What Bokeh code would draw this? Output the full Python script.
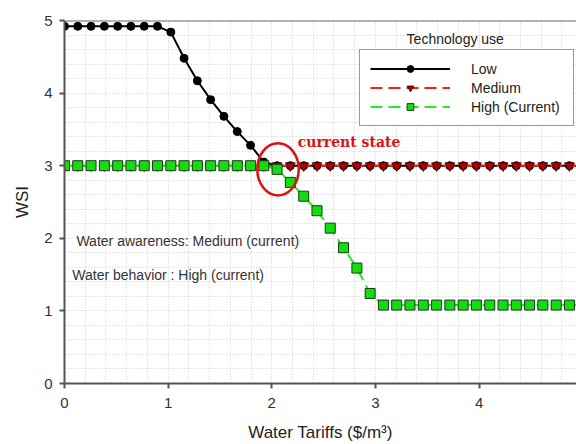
from bokeh.plotting import figure
from bokeh.models import (Legend, LegendItem, Label, Span, Ellipse, ColumnDataSource,
                          FixedTicker, SingleIntervalTicker, Range1d)
from bokeh.embed import file_html
from bokeh.resources import INLINE

# Water tariff grid ($/m3)
tariff = [0.0, 0.128, 0.256, 0.385, 0.513, 0.641, 0.769, 0.897, 1.026, 1.154,
          1.282, 1.41, 1.538, 1.667, 1.795, 1.923, 2.051, 2.179, 2.308, 2.436,
          2.564, 2.692, 2.821, 2.949, 3.077, 3.205, 3.333, 3.462, 3.59, 3.718,
          3.846, 3.974, 4.103, 4.231, 4.359, 4.487, 4.615, 4.744, 4.872, 5.0]

# WSI for each technology-use level
wsi_low = [4.92, 4.92, 4.92, 4.92, 4.92, 4.92, 4.92, 4.92, 4.84, 4.48,
           4.17, 3.91, 3.68, 3.47, 3.28, 3.05, 3.0, 3.0, 3.0, 3.0,
           3.0, 3.0, 3.0, 3.0, 3.0, 3.0, 3.0, 3.0, 3.0, 3.0,
           3.0, 3.0, 3.0, 3.0, 3.0, 3.0, 3.0, 3.0, 3.0, 3.0]
wsi_medium = [3.0, 3.0, 3.0, 3.0, 3.0, 3.0, 3.0, 3.0, 3.0, 3.0,
              3.0, 3.0, 3.0, 3.0, 3.0, 3.0, 3.0, 3.0, 3.0, 3.0,
              3.0, 3.0, 3.0, 3.0, 3.0, 3.0, 3.0, 3.0, 3.0, 3.0,
              3.0, 3.0, 3.0, 3.0, 3.0, 3.0, 3.0, 3.0, 3.0, 3.0]
wsi_high = [3.0, 3.0, 3.0, 3.0, 3.0, 3.0, 3.0, 3.0, 3.0, 3.0,
            3.0, 3.0, 3.0, 3.0, 3.0, 3.0, 2.95, 2.77, 2.58, 2.38,
            2.14, 1.87, 1.59, 1.24, 1.08, 1.08, 1.08, 1.08, 1.08, 1.08,
            1.08, 1.08, 1.08, 1.08, 1.08, 1.08, 1.08, 1.08, 1.08, 1.08]

series_names = ["Low", "Medium", "High (Current)"]
x_ticks = [0, 1, 2, 3, 4]
y_ticks = [0, 1, 2, 3, 4, 5]

# highlighted "current state" region (centre and size in data units)
state_x, state_y = 2.06, 2.95
state_w, state_h = 0.40, 0.72

FONT = "Liberation Sans"

p = figure(width=576, height=444, output_backend="svg", toolbar_location=None,
           x_range=Range1d(0, 4.94), y_range=Range1d(0, 5),
           min_border_left=64, min_border_top=20, min_border_bottom=60,
           min_border_right=0, x_axis_label="Water Tariffs ($/m\u00b3)",
           y_axis_label="WSI")
p.outline_line_color = None
p.background_fill_color = "white"

# axes
for ax in (p.xaxis[0], p.yaxis[0]):
    ax.axis_line_color = "#555555"
    ax.axis_line_width = 2
    ax.major_tick_line_color = "#555555"
    ax.major_tick_line_width = 2
    ax.major_tick_out = 5
    ax.major_tick_in = 0
    ax.minor_tick_line_color = None
    ax.major_label_text_font = FONT
    ax.major_label_text_font_size = "15px"
    ax.major_label_text_color = "#333333"
    ax.axis_label_text_font = FONT
    ax.axis_label_text_font_size = "17px"
    ax.axis_label_text_font_style = "normal"
    ax.axis_label_text_color = "#222222"
p.xaxis.ticker = FixedTicker(ticks=x_ticks)
p.yaxis.ticker = FixedTicker(ticks=y_ticks)
p.xaxis.major_label_standoff = 9
p.yaxis.major_label_standoff = 7
p.xaxis.axis_label_standoff = 12
p.yaxis.axis_label_standoff = 9

# dotted grid every 0.2
p.xgrid.ticker = SingleIntervalTicker(interval=0.2, num_minor_ticks=0)
p.ygrid.ticker = SingleIntervalTicker(interval=0.2, num_minor_ticks=0)
for g in (p.xgrid[0], p.ygrid[0]):
    g.grid_line_color = "#cdcdcd"
    g.grid_line_dash = "1 2"
    g.grid_line_width = 1

# top frame line
p.add_layout(Span(location=5, dimension="width", line_color="#666666", line_width=2))

src = ColumnDataSource(dict(x=tariff, low=wsi_low, med=wsi_medium, high=wsi_high))

l_low = p.line("x", "low", source=src, line_color="black", line_width=2)
m_low = p.scatter("x", "low", source=src, marker="circle", size=8,
                  fill_color="black", line_color="black")
l_med = p.line("x", "med", source=src, line_color="#ff1a1a", line_width=2,
               line_dash="12 6")
m_med = p.scatter("x", "med", source=src, marker="inverted_triangle", size=10,
                  fill_color="#b00000", line_color="#400000", line_width=0.8)
l_high = p.line("x", "high", source=src, line_color="#22ee22", line_width=2,
                line_dash="12 6")
m_high = p.scatter("x", "high", source=src, marker="square", size=10,
                   fill_color="#11dd11", line_color="#1a3a1a", line_width=1)

legend = Legend(items=[
    LegendItem(label=series_names[0], renderers=[l_low, m_low]),
    LegendItem(label=series_names[1], renderers=[l_med, m_med]),
    LegendItem(label=series_names[2], renderers=[l_high, m_high]),
], location=(295, 257))
legend.glyph_width = 80
legend.glyph_height = 17
legend.spacing = 2
legend.padding = 10
legend.margin = 0
legend.label_standoff = 21
legend.label_text_font = FONT
legend.label_text_font_size = "14px"
legend.label_text_color = "#222222"
legend.border_line_color = "#333333"
legend.border_line_width = 1.5
legend.background_fill_color = "white"
legend.background_fill_alpha = 1
legend.label_width = 92
p.add_layout(legend, "center")

p.add_layout(Label(x=3.77, y=4.74, text="Technology use", text_align="center",
                   text_baseline="middle", text_font=FONT, text_font_size="14px",
                   text_color="#222222"))

# annotations
p.add_glyph(Ellipse(x=state_x, y=state_y, width=state_w, height=state_h,
                    fill_color=None, line_color="#e01010", line_width=2.5))
p.add_layout(Label(x=2.25, y=3.33, text="current state", text_align="left",
                   text_baseline="middle", text_font="DejaVu Serif",
                   text_font_style="bold", text_font_size="14px",
                   text_color="#dd1111"))
p.add_layout(Label(x=0.115, y=1.96, text="Water awareness: Medium (current)",
                   text_baseline="middle", text_font=FONT, text_font_size="14px",
                   text_color="#333333"))
p.add_layout(Label(x=0.075, y=1.50, text="Water behavior : High (current)",
                   text_baseline="middle", text_font=FONT, text_font_size="14px",
                   text_color="#333333"))

open("out.html", "w").write(file_html(p, INLINE))
